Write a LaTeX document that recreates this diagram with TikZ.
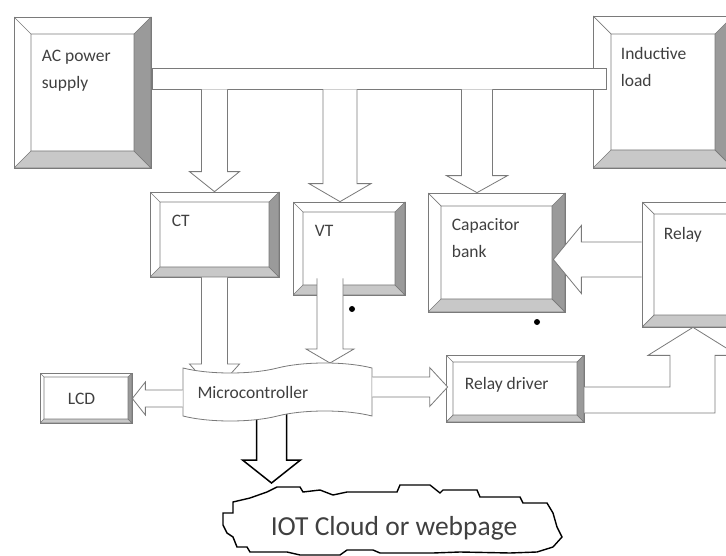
\documentclass[tikz,border=0pt]{standalone}
\usepackage{fontspec}
\setmainfont{Carlito}
\usetikzlibrary{calc,shapes.symbols}

\definecolor{edge}{HTML}{7A7A7A}
\definecolor{shade}{HTML}{C8C8C8}
\definecolor{dark}{HTML}{9A9A9A}
\definecolor{ink}{HTML}{404040}

\tikzset{
  bevelbox/.style={draw=edge, fill=white, line width=0.7pt, inner sep=0pt,
    path picture={
      \coordinate (o1) at (path picture bounding box.north west);
      \coordinate (o2) at (path picture bounding box.north east);
      \coordinate (o3) at (path picture bounding box.south east);
      \coordinate (o4) at (path picture bounding box.south west);
      \coordinate (i1) at ($(o1)+(#1,#1)$);
      \coordinate (i2) at ($(o2)+(-#1,#1)$);
      \coordinate (i3) at ($(o3)+(-#1,-#1)$);
      \coordinate (i4) at ($(o4)+(#1,-#1)$);
      \filldraw[draw=edge, fill=shade, line width=0.7pt] (o4) -- (o3) -- (i3) -- (i4) -- cycle;
      \filldraw[draw=edge, fill=dark, line width=0.7pt] (o2) -- (o3) -- (i3) -- (i2) -- cycle;
      \draw[edge, line width=0.7pt] (o1) -- (i1) -- (i2) (i1) -- (i4);
    }},
  busbar/.style={draw=edge, fill=white, line width=0.8pt},
  lbl/.style={anchor=north west, inner sep=0pt, align=left, text=ink,
    font=\fontsize{17.5}{27}\selectfont},
  blk/.style={draw=edge, fill=white, line width=0.8pt},
  darrow/.style n args={3}{to path={let \p1=(\tikztostart), \p2=(\tikztotarget) in
      (\x1-#1,\y1) -- (\x1-#1,\y2+#3) -- (\x1-#2,\y2+#3) -- (\x1,\y2)
      -- (\x1+#2,\y2+#3) -- (\x1+#1,\y2+#3) -- (\x1+#1,\y1)}},
  rarrow/.style n args={3}{to path={let \p1=(\tikztostart), \p2=(\tikztotarget) in
      (\x1,\y1+#1) -- (\x2-#3,\y1+#1) -- (\x2-#3,\y1+#2) -- (\x2,\y1)
      -- (\x2-#3,\y1-#2) -- (\x2-#3,\y1-#1) -- (\x1,\y1-#1)}},
  larrow/.style n args={3}{to path={let \p1=(\tikztostart), \p2=(\tikztotarget) in
      (\x1,\y1+#1) -- (\x2+#3,\y1+#1) -- (\x2+#3,\y1+#2) -- (\x2,\y1)
      -- (\x2+#3,\y1-#2) -- (\x2+#3,\y1-#1) -- (\x1,\y1-#1)}},
}

\begin{document}
\begin{tikzpicture}[x=1pt,y=-1pt]
  \useasboundingbox (0,0) rectangle (726,556);
  \clip (0,0) rectangle (726,556);

  \node[bevelbox=17, minimum width=137pt, minimum height=151pt] (ac)    at (82.5,92.5)  {};
  \node[bevelbox=18, minimum width=140pt, minimum height=152pt] (ind)   at (663,92)     {};
  \node[bevelbox=10, minimum width=129pt, minimum height=85pt]  (ct)    at (214.5,234.5) {};
  \node[bevelbox=10, minimum width=112pt, minimum height=93pt]  (vt)    at (349,248.5)  {};
  \node[bevelbox=13, minimum width=137pt, minimum height=119pt] (cap)   at (496.5,252.5) {};
  \node[bevelbox=12, minimum width=108pt, minimum height=125pt] (relay) at (696,264.5)  {};
  \node[bevelbox=7,  minimum width=138pt, minimum height=67pt]  (rd)    at (515,388.5)  {};
  \node[bevelbox=4,  minimum width=92pt,  minimum height=50pt]  (lcd)   at (86,398)     {};
  \node[busbar, minimum width=454pt, minimum height=21pt]      (bus)   at (379,78.5)   {};
  \node[inner sep=0pt, font=\fontsize{27.5}{30}\selectfont, text=ink] (cloud) at (394,528) {IOT Cloud or webpage};

  \coordinate (vtin)  at ([xshift=-9pt]vt.north);
  \coordinate (capin) at ([xshift=-19.5pt]cap.north);
  \coordinate (vtout) at ([shift={(-19,-17)}]vt.south);
  \coordinate (mcpos) at (277.5,392);
  \coordinate (mctop) at ([shift={(0,-29)}]mcpos);
  \coordinate (cltop) at ([shift={(-118,-45)}]cloud.center);

  \draw[blk] (bus.south -| ct.north) to[darrow={13pt}{25pt}{20pt}] (ct.north);
  \draw[blk] (bus.south -| vtin) to[darrow={17pt}{31pt}{18pt}] (vtin);
  \draw[blk] (bus.south -| capin) to[darrow={15.5pt}{30.5pt}{17pt}] (capin);
  \draw[blk] ([shift={(0,-5)}]relay.west) to[larrow={17.5pt}{34pt}{28pt}] ([xshift=-12pt]cap.east);
  \draw[blk] let \p1=([xshift=-3pt]relay.south), \p2=(rd.east) in
    (\x2,\y2+1.5pt) -- (\x1-23pt,\y2+1.5pt) -- (\x1-23pt,\y1-28pt) -- (\x1-45pt,\y1-28pt)
    -- (\p1) -- (\x1+45pt,\y1-28pt) -- (\x1+22pt,\y1-28pt) -- (\x1+22pt,\y2-24.5pt) -- (\x2,\y2-24.5pt);

  \draw[blk] (ct.south) to[darrow={13pt}{25pt}{28pt}] (ct.south |- mcpos);
  \draw[blk] (vtout) to[darrow={13pt}{24pt}{14pt}] (vtout |- mctop);
  \draw[blk, draw=black, line width=1.5pt] ([shift={(-6,19)}]mcpos) to[darrow={15pt}{29pt}{23pt}] (cltop);

  \node[tape, draw=edge, fill=white, line width=0.8pt, minimum width=189pt, minimum height=58pt,
        tape bend height=10pt, text width=160pt, align=left, text=ink,
        font=\fontsize{17.5}{27}\selectfont] (mc) at (mcpos) {Microcontroller};

  \draw[blk] ([shift={(0,-5)}]mc.east) to[rarrow={10pt}{19.5pt}{18pt}] ([xshift=2pt]rd.west);
  \draw[blk] ([shift={(0,6.5)}]mc.west) to[larrow={8.5pt}{16.5pt}{13pt}] (lcd.east);

  \draw[black, line width=1.4pt, line join=miter] (223,513) -- (233,513) -- (233,502) -- (250,498)
    -- (267,492) -- (277,487) -- (300,487) -- (303,492) -- (320,490) -- (333,495) -- (347,492)
    -- (397,492) -- (400,485) -- (430,485) -- (440,493) -- (443,490) -- (477,490) -- (480,497)
    -- (520,497) -- (523,503) -- (547,503) -- (553,513) -- (557,527) -- (562,537) -- (553,547)
    -- (537,552) -- (510,553) -- (460,552) -- (433,553) -- (380,553) -- (373,550) -- (347,550)
    -- (340,555) -- (300,555) -- (287,552) -- (250,552) -- (247,547) -- (237,547) -- (233,537)
    -- (227,533) -- (223,525) -- cycle;

  \fill (352,309) circle (3pt);
  \fill (537,322) circle (3pt);

  \node[lbl] (ac-l)    at ([shift={(28,33)}]ac.north west)    {AC power\\supply};
  \node[lbl] (ind-l)   at ([shift={(28,32)}]ind.north west)   {Inductive\\load};
  \node[lbl] (ct-l)    at ([shift={(22,23)}]ct.north west)    {CT};
  \node[lbl] (vt-l)    at ([shift={(22,23)}]vt.north west)    {VT};
  \node[lbl] (cap-l)   at ([shift={(24,26)}]cap.north west)   {Capacitor\\bank};
  \node[lbl] (relay-l) at ([shift={(22,25)}]relay.north west) {Relay};
  \node[lbl] (rd-l)    at ([shift={(19,22)}]rd.north west)    {Relay driver};
  \node[lbl] (lcd-l)   at ([shift={(28,20)}]lcd.north west)   {LCD};
\end{tikzpicture}
\end{document}
